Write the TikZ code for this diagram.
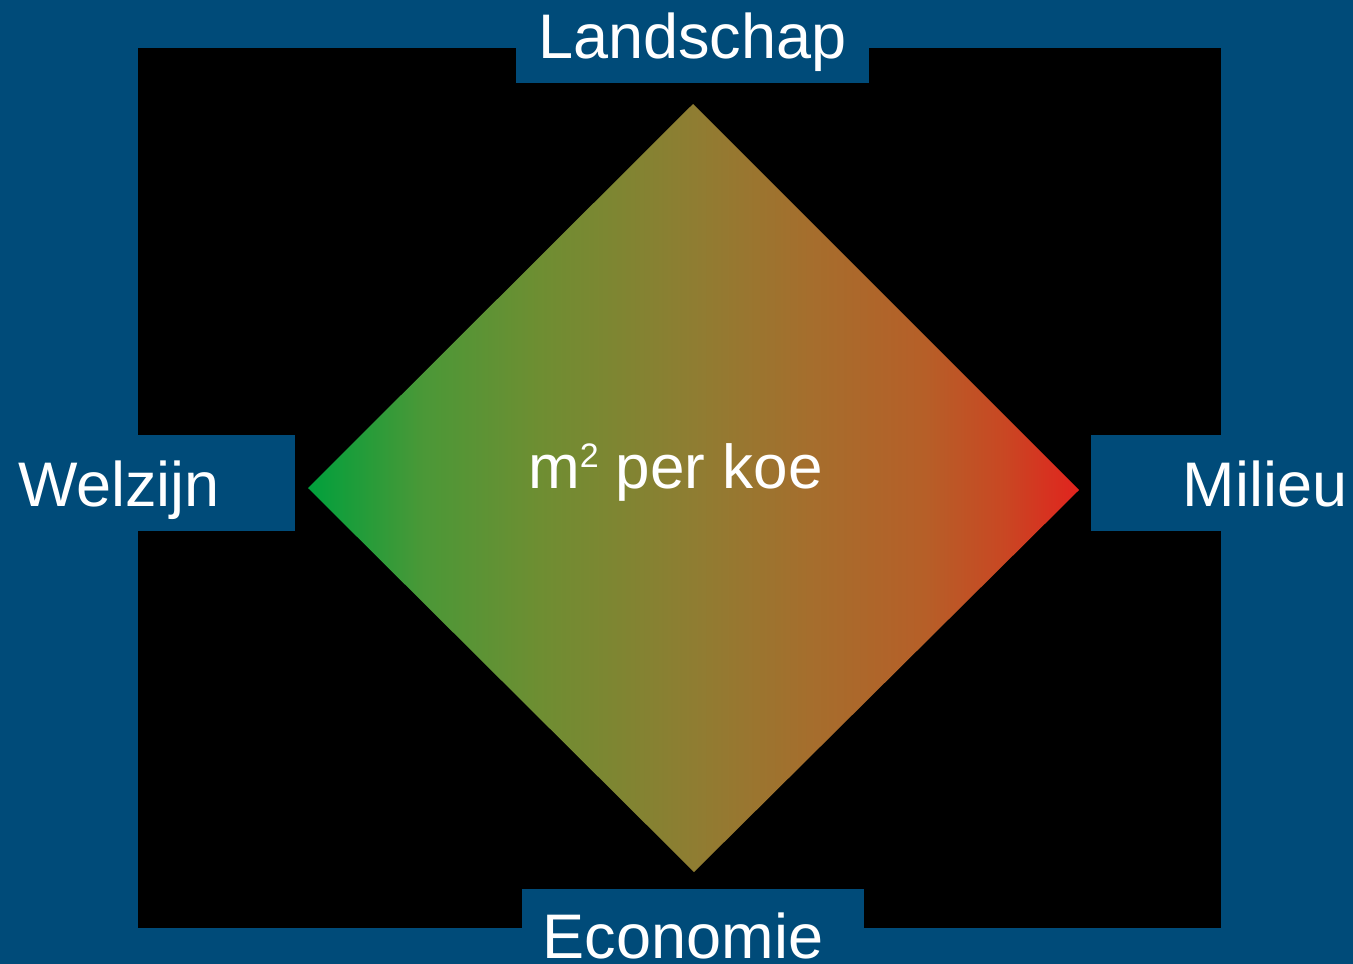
\documentclass[tikz,border=0pt]{standalone}
\usepackage{fontspec}
\setmainfont{Liberation Sans}
\definecolor{bgblue}{RGB}{0,75,121}
\definecolor{g0}{RGB}{0,160,60}
\definecolor{g1}{RGB}{75,152,55}
\definecolor{g2}{RGB}{110,142,50}
\definecolor{g3}{RGB}{143,125,50}
\definecolor{g4}{RGB}{165,110,45}
\definecolor{g5}{RGB}{182,95,40}
\definecolor{g6}{RGB}{200,72,35}
\definecolor{g7}{RGB}{225,35,30}
\pgfdeclarehorizontalshading{diamondgrad}{100bp}{color(0bp)=(g0); color(25bp)=(g0); color(32.5bp)=(g1); color(40bp)=(g2); color(50bp)=(g3); color(57.5bp)=(g4); color(65bp)=(g5); color(70bp)=(g6); color(75bp)=(g7); color(100bp)=(g7)}
\begin{document}
\begin{tikzpicture}[x=1pt,y=-1pt,
  lbl/.style={text=white, font=\fontsize{63}{63}\selectfont, inner sep=0pt, anchor=base},
  lblbox/.style={fill=bgblue}]
\fill[bgblue] (0,0) rectangle (1353,964);
\useasboundingbox (0,0) rectangle (1353,964);
\fill[black] (138,48) rectangle (1221,928);
% label boxes
\fill[lblbox] (516,48) rectangle (869,83);
\fill[lblbox] (138,435) rectangle (295,531);
\fill[lblbox] (1091,435) rectangle (1221,531);
\fill[lblbox] (522,889) rectangle (864,928);
% diamond
\coordinate (T) at (693,104);
\coordinate (L) at (308,488);
\coordinate (R) at (1079,490);
\coordinate (B) at (694,872);
\shade[shading=diamondgrad] (T) -- (R) -- (B) -- (L) -- cycle;
% labels
\node[lbl] (landschap) at (692.5,58) {Landschap};
\node[lbl] (welzijn) at (119,506) {Welzijn};
\node[lbl] (milieu) at (1265,506) {Milieu};
\node[lbl] (economie) at (683,958) {Economie};
\node[lbl, font=\fontsize{62}{62}\selectfont] (center) at (675.5,488) {m\raisebox{21pt}{\fontsize{34}{34}\selectfont 2} per koe};
\end{tikzpicture}
\end{document}
